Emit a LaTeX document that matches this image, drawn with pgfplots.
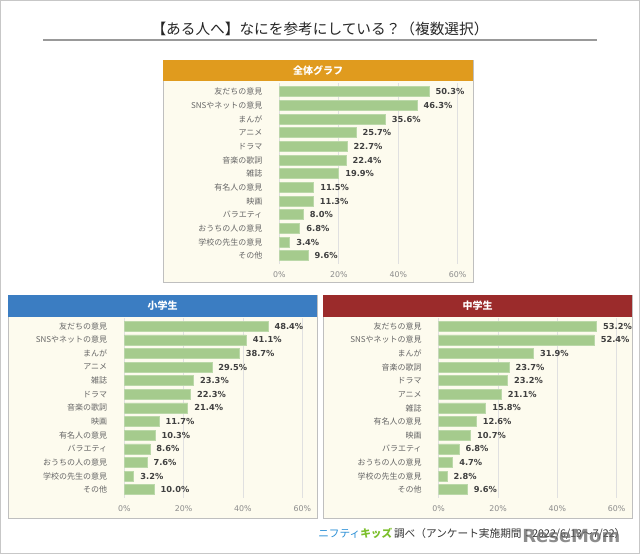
\documentclass[border=0pt]{standalone}
\usepackage{pgfplots}
\pgfplotsset{compat=1.18}
\usepackage{fontspec}
\setmainfont{Noto Sans CJK JP}
\newfontfamily\numfont{DejaVu Sans}
\definecolor{hdorange}{HTML}{E09B1E}
\definecolor{hdblue}{HTML}{3B7DC2}
\definecolor{hdred}{HTML}{9B2B2B}
\definecolor{cream}{HTML}{FDFBEE}
\definecolor{barg}{HTML}{A5CB8D}
\definecolor{valtxt}{HTML}{404040}
\definecolor{cattxt}{HTML}{666666}
\definecolor{ticktxt}{HTML}{8C8C8C}
\definecolor{nifblue}{HTML}{2A8FD6}
\definecolor{kidgreen}{HTML}{7BBF2A}

\pgfplotsset{
  panel/.style={
    xbar, y dir=reverse, scale only axis,
    xmin=0, xmax=60, ymin=-0.6, ymax=12.6,
    ytick={0,...,12},
    xtick={0,20,40,60},
    xticklabels={0\%,20\%,40\%,60\%},
    axis line style={draw=none},
    tick style={draw=none},
    xmajorgrids, grid style={black!12, line width=0.6pt},
    bar width=7.5pt,
    point meta=x,
    nodes near coords={\pgfmathprintnumber[fixed,fixed zerofill,precision=1]{\pgfplotspointmeta}\%},
    nodes near coords style={font=\numfont\bfseries\fontsize{6.2}{7}\selectfont, text=valtxt, anchor=west, xshift=1.5pt},
    yticklabel style={font=\fontsize{6}{7}\selectfont, text=cattxt, xshift=-5pt},
    xticklabel style={font=\numfont\fontsize{5.9}{7}\selectfont, text=ticktxt, yshift=-2pt},
    /pgf/number format/assume math mode=true,
  },
  barsty/.style={fill=barg, draw=barg!75!white, line width=0.4pt}
}

\begin{document}
\begin{tikzpicture}[x=0.75pt,y=-0.75pt]
% background
\path (0,0) rectangle (640,554);
\draw[fill=white, draw=black!22, line width=0.75pt] (0.5,0.5) rectangle (639.5,553.5);
% title
\node[font=\fontsize{11}{13}\selectfont, text=black!85] at (320,29) {【ある人へ】なにを参考にしている？（複数選択）};
\draw[black!40, line width=1.1pt] (43,40) -- (597,40);

% panels
\draw[fill=cream, draw=black!25, line width=0.6pt] (163,60) rectangle (473,282);
\fill[hdorange] (163,60) rectangle (473,81);
\node[font=\bfseries\fontsize{7.5}{9}\selectfont, text=white] at (318,70.5) {全体グラフ};

\draw[fill=cream, draw=black!25, line width=0.6pt] (8,295) rectangle (317,518);
\fill[hdblue] (8,295) rectangle (317,317);
\node[font=\bfseries\fontsize{7.5}{9}\selectfont, text=white] at (162.5,306) {小学生};

\draw[fill=cream, draw=black!25, line width=0.6pt] (323,295) rectangle (632,518);
\fill[hdred] (323,295) rectangle (632,317);
\node[font=\bfseries\fontsize{7.5}{9}\selectfont, text=white] at (477.5,306) {中学生};

% top chart
\begin{axis}[panel, at={(209.6pt,-62.6pt)}, anchor=north west,
  width=133.7pt, height=135.3pt,
  yticklabels={友だちの意見,SNSやネットの意見,まんが,アニメ,ドラマ,音楽の歌詞,雑誌,有名人の意見,映画,バラエティ,おうちの人の意見,学校の先生の意見,その他}]
\addplot[barsty] coordinates {(50.3,0) (46.3,1) (35.6,2) (25.7,3) (22.7,4) (22.4,5) (19.9,6) (11.5,7) (11.3,8) (8.0,9) (6.8,10) (3.4,11) (9.6,12)};
\end{axis}

% bottom-left chart
\begin{axis}[panel, at={(93.2pt,-238.5pt)}, anchor=north west,
  width=133.5pt, height=134.9pt,
  yticklabels={友だちの意見,SNSやネットの意見,まんが,アニメ,雑誌,ドラマ,音楽の歌詞,映画,有名人の意見,バラエティ,おうちの人の意見,学校の先生の意見,その他}]
\addplot[barsty] coordinates {(48.4,0) (41.1,1) (38.7,2) (29.5,3) (23.3,4) (22.3,5) (21.4,6) (11.7,7) (10.3,8) (8.6,9) (7.6,10) (3.2,11) (10.0,12)};
\end{axis}

% bottom-right chart
\begin{axis}[panel, at={(329.0pt,-238.5pt)}, anchor=north west,
  width=133.5pt, height=134.9pt,
  yticklabels={友だちの意見,SNSやネットの意見,まんが,音楽の歌詞,ドラマ,アニメ,雑誌,有名人の意見,映画,バラエティ,おうちの人の意見,学校の先生の意見,その他}]
\addplot[barsty] coordinates {(53.2,0) (52.4,1) (31.9,2) (23.7,3) (23.2,4) (21.1,5) (15.8,6) (12.6,7) (10.7,8) (6.8,9) (4.7,10) (2.8,11) (9.6,12)};
\end{axis}

% footer
\node[anchor=west, font=\fontsize{8}{10}\selectfont, inner sep=0pt] at (318,534)
  {{\color{nifblue}ニフティ}{\bfseries\color{kidgreen}キッズ}\,{\color{black!80}調べ（アンケート実施期間：2022/6/13～7/22）}};
\node[anchor=west, font=\numfont\bfseries\fontsize{13.5}{14}\selectfont, text=black!60, opacity=0.75, inner sep=0pt] at (522,536) {ReseMom};
\end{tikzpicture}
\end{document}
